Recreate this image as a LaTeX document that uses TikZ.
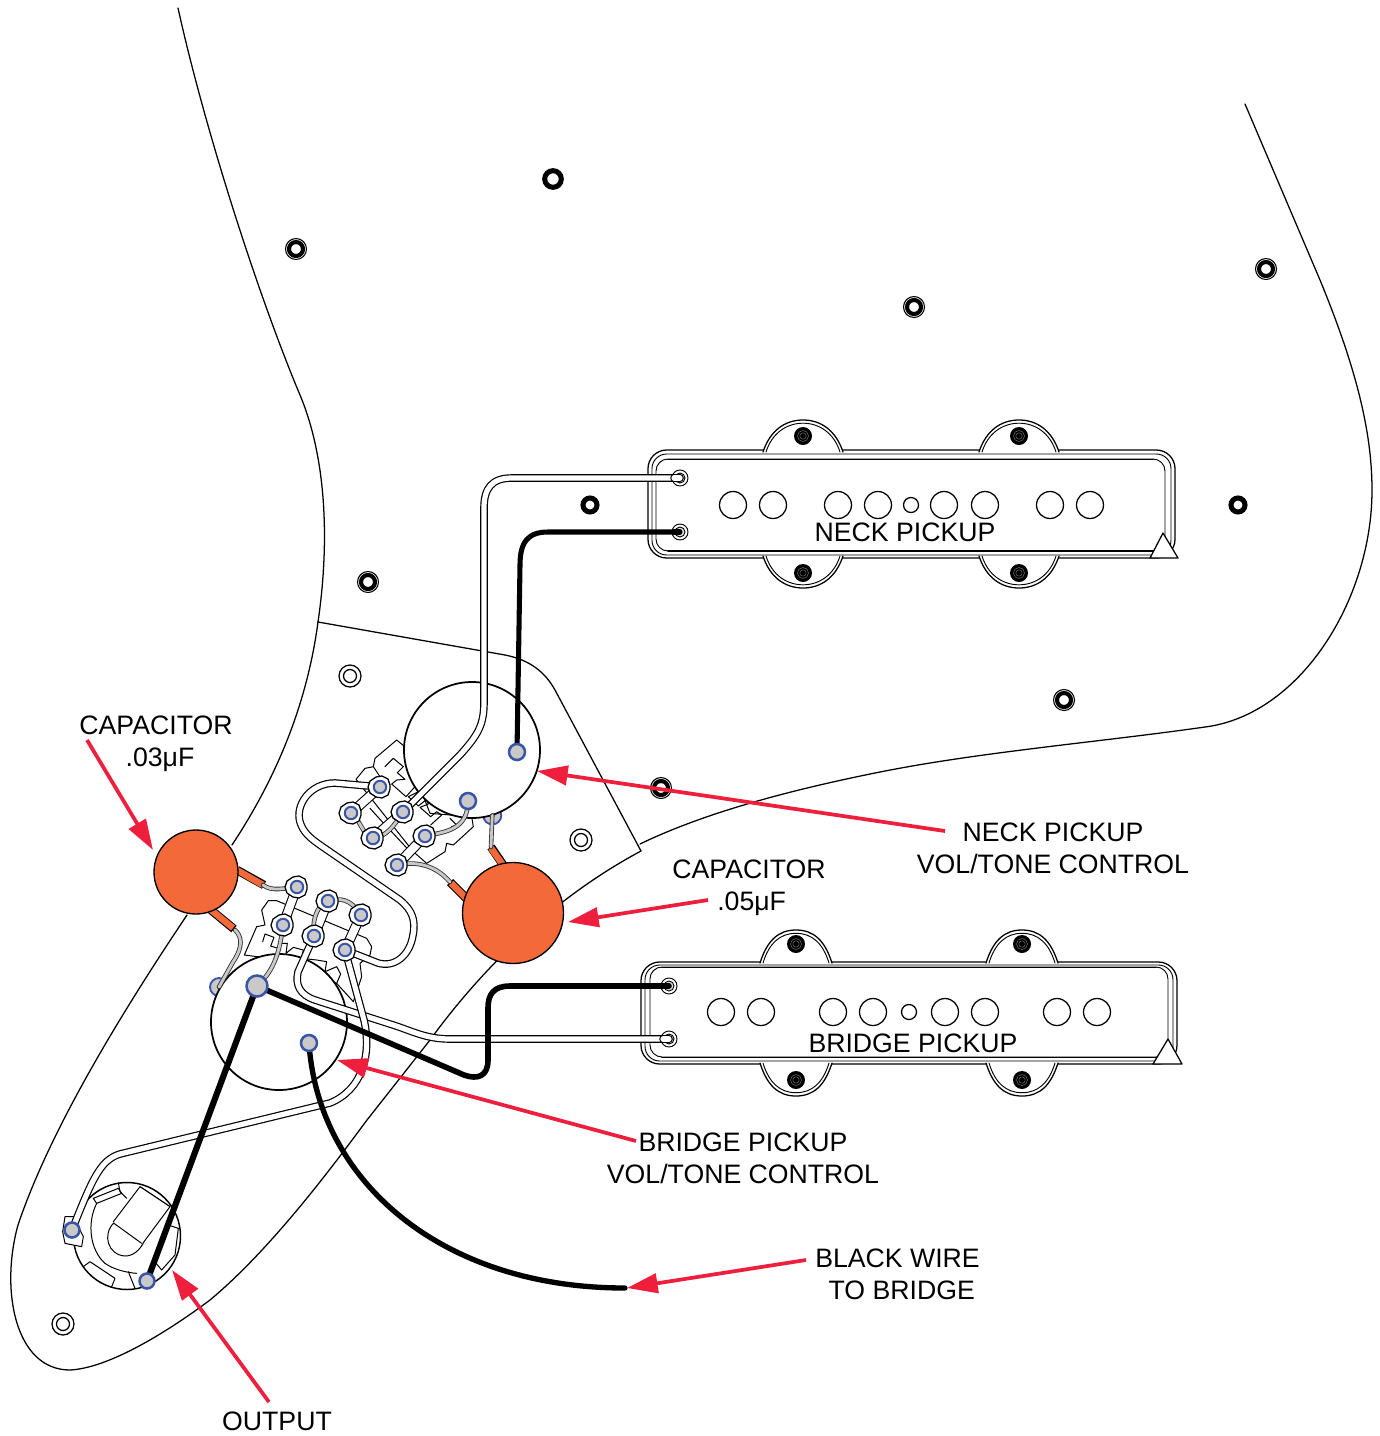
\documentclass[tikz,border=0pt]{standalone}
\usepackage{fontspec}
\setmainfont{Liberation Sans}
\usetikzlibrary{arrows.meta}
\definecolor{capor}{HTML}{F4693A}
\definecolor{redar}{HTML}{ED1F3D}
\definecolor{lugblue}{HTML}{3A55A5}
\definecolor{luggray}{HTML}{C9C9C9}
\tikzset{
  thinline/.style={line width=.95pt,draw=black},
  whitewire/.style={draw=black,line width=.9pt,double=white,double distance=3.9pt,line join=round},
  graywire/.style={draw=black!80,line width=.65pt,double=luggray,double distance=2.1pt},
  blackwire/.style={draw=black,line width=3.8pt,line join=round},
  strip/.style={draw=black,line width=.8pt,double=white,double distance=6pt},
  redarrow/.style={draw=redar,line width=2.8pt,-{Triangle[length=23pt,width=14.5pt,fill=redar]}},
  lbl/.style={font=\fontsize{20}{24}\selectfont,align=center,inner sep=0pt},
  capbody/.style={fill=capor,draw=black,line width=1pt},
  caplead/.style={draw=black,line width=6.4pt,line cap=butt},
  capleadin/.style={draw=capor,line width=4.9pt,line cap=butt},
}
\newcommand\lobe[4]{% cx, half width, ybase, ytip
  \fill[white] (#1-#2,#3) .. controls (#1-#2+7,#4+.33*#3-.33*#4) and (#1-18,#4) .. (#1,#4) .. controls (#1+18,#4) and (#1+#2-7,#4+.33*#3-.33*#4) .. (#1+#2,#3) -- cycle;
  \draw[thinline] (#1-#2,#3) .. controls (#1-#2+7,#4+.33*#3-.33*#4) and (#1-18,#4) .. (#1,#4) .. controls (#1+18,#4) and (#1+#2-7,#4+.33*#3-.33*#4) .. (#1+#2,#3);
  \draw[line width=.7pt] (#1-#2+3,#3) .. controls (#1-#2+9,#4+.4*#3-.4*#4) and (#1-16,#4+.1*#3-.1*#4) .. (#1,#4+.1*#3-.1*#4) .. controls (#1+16,#4+.1*#3-.1*#4) and (#1+#2-9,#4+.4*#3-.4*#4) .. (#1+#2-3,#3);
}
\newcommand\mountscrew[2]{%
  \fill[black] (#1,#2) circle[radius=9];
  \draw[gray,line width=.3pt] (#1,#2) circle[radius=5.5] (#1,#2) circle[radius=3.2];
}
\newcommand\boldscrew[3]{%
  \draw[line width=3.8pt,fill=white] (#1,#2) circle[radius=#3];
}
\newcommand\ringscrew[2]{%
  \draw[line width=.8pt,fill=white] (#1,#2) circle[radius=10.5];
  \draw[line width=3.1pt] (#1,#2) circle[radius=7];
}
\newcommand\platescrew[2]{%
  \draw[thinline] (#1,#2) circle[radius=11] (#1,#2) circle[radius=6.5];
}
\newcommand\lug[1]{% solder lug at named coordinate
  \fill[white,draw=black,line width=.95pt] (#1) ++(10,2) -- ++(-2,6) -- ++(-6,3) -- ++(-6,-1) -- ++(-6,-4) -- ++(-2,-6) -- ++(2,-6) -- ++(6,-4) -- ++(6,-1) -- ++(6,3) -- ++(2,6) -- cycle;
  \draw[draw=lugblue,fill=luggray,line width=1.5pt] (#1) circle[radius=6.2];
}
\newcommand\term[2]{%
  \draw[draw=lugblue,fill=luggray,line width=1.9pt] (#1) circle[radius=#2];
}
\begin{document}
\begin{tikzpicture}[x=.75pt,y=-.75pt,line cap=round]
\useasboundingbox (0,0) rectangle (1379,1436);
% ---- named points
\coordinate (nw) at (680,478);  \coordinate (nb) at (680,532);
\coordinate (bb) at (669,986);  \coordinate (bw) at (669,1039);
\coordinate (n1) at (380,787);  \coordinate (n2) at (351,813);
\coordinate (n3) at (403,812);  \coordinate (n4) at (373,838);
\coordinate (n5) at (425,836);  \coordinate (n6) at (397,865);
\coordinate (nA) at (517,752);  \coordinate (nB) at (468,801);
\coordinate (nC) at (492.3,815.4);
\coordinate (b1) at (297,887);  \coordinate (b2) at (283,925);
\coordinate (b3) at (328,901);  \coordinate (b4) at (314,936);
\coordinate (b5) at (361,915);  \coordinate (b6) at (345,950);
\coordinate (bA) at (257,986);  \coordinate (bB) at (309,1043);
\coordinate (bC) at (219,987);
\coordinate (jL) at (72,1230);  \coordinate (jB) at (147,1281);
\coordinate (bwEnd) at (625,1288);
% ---- pickguard outline
\draw[thinline] (178,8) .. controls (205,130) and (258,295) .. (300,395) .. controls (326,457) and (330,540) .. (318,622);
\draw[thinline] (318,622) .. controls (305,720) and (265,795) .. (232,845);
\draw[thinline] (187,915) .. controls (120,1015) and (50,1130) .. (18,1225) .. controls (0,1290) and (15,1370) .. (70,1370) .. controls (110,1368) and (170,1330) .. (210,1300) .. controls (270,1250) and (330,1170) .. (367,1120) -- (430,1040) .. controls (470,985) and (540,905) .. (641,851);
\draw[thinline] (318,622) -- (505,655) .. controls (530,660) and (545,672) .. (555,690) -- (641,851);
\draw[thinline] (1245,104) -- (1320,280) .. controls (1355,365) and (1372,430) .. (1372,490) .. controls (1372,600) and (1300,715) .. (1205,727) .. controls (1100,742) and (980,752) .. (880,772) .. controls (780,792) and (700,815) .. (640,844);
% ---- screws
\boldscrew{553}{179}{8.3}\ringscrew{296}{249}\ringscrew{914}{307}\ringscrew{1266}{269}
\boldscrew{590}{505}{7}\boldscrew{1238}{505}{7}\ringscrew{368}{582}\ringscrew{1064}{700}\ringscrew{661}{788}
\platescrew{350}{676}\platescrew{581}{840}\platescrew{63}{1324}
% ---- neck pickup
\draw[thinline,rounded corners=14pt] (648,450) rectangle (1175,558);
\draw[line width=.7pt,rounded corners=11pt] (652,454) rectangle (1171,555);
\draw[line width=.7pt,rounded corners=9pt] (656,459) rectangle (1165,551);
\draw[line width=1.4pt] (668,459.5) -- (1153,459.5) (668,551) -- (1153,551);
\lobe{803}{40}{452}{420}\lobe{1019}{40}{452}{420}\lobe{803}{40}{556}{588}\lobe{1019}{40}{556}{588}
\mountscrew{803}{436}\mountscrew{1019}{436}\mountscrew{803}{573}\mountscrew{1019}{573}
\foreach \x in {733,773,838,878,944,985,1050,1090}{\draw[thinline] (\x,505) circle[radius=13.5];}
\draw[thinline] (911,505) circle[radius=7.5];
\draw[thinline,fill=white,line join=round] (1150,558) -- (1163,533) -- (1178,558) -- cycle;
\node[lbl] (neckp) at (905,532) {NECK PICKUP};
% ---- bridge pickup
\draw[thinline,rounded corners=14pt] (641,962) rectangle (1177,1064);
\draw[line width=.7pt,rounded corners=11pt] (645,965) rectangle (1173,1061);
\draw[line width=.7pt,rounded corners=9pt] (650,967) rectangle (1168,1057);
\draw[line width=1.4pt] (662,967.5) -- (1156,967.5) (662,1057.5) -- (1156,1057.5);
\lobe{796}{36}{963}{930}\lobe{1022}{36}{963}{930}\lobe{796}{36}{1063}{1096}\lobe{1022}{36}{1063}{1096}
\mountscrew{796}{944}\mountscrew{1022}{944}\mountscrew{796}{1080}\mountscrew{1022}{1080}
\foreach \x in {721,761,833,873,945,985,1057,1097}{\draw[thinline] (\x,1012) circle[radius=13.5];}
\draw[thinline] (909,1012) circle[radius=7.5];
\draw[thinline,fill=white,line join=round] (1153,1064) -- (1168,1039) -- (1182,1064) -- cycle;
\node[lbl] (bridgep) at (913,1043) {BRIDGE PICKUP};
% ---- neck switch body (zoom coordinates)
\begin{scope}[shift={(280,670)},x=.25pt,y=-.25pt,line width=.75pt,line join=round]
  \draw[fill=white] (372,228) -- (350,210) -- (285,265) -- (280,290) -- (255,295) -- (228,328) -- (400,545) -- (440,580) -- (495,545) -- (500,520) -- (520,525) -- (580,470) -- (575,440) -- (450,430) -- cycle;
  \draw (315,290) -- (340,265) -- (370,290) -- (352,308) -- (375,328) -- (350,330) -- (335,342) -- (378,380) -- (405,350) -- (415,365) -- (385,380) -- (415,408) -- (440,388) -- (445,402) -- (420,412) -- (452,440) -- (470,425) -- (485,435) -- (452,465);
  \draw (270,415) -- (320,470) (330,480) -- (400,555);
  \draw (280,290) -- (300,320);
  \draw (510,445) -- (530,465) -- (515,470);
\end{scope}
% ---- bridge switch body
\begin{scope}[shift={(150,860)},x=.25pt,y=-.25pt,line width=.75pt,line join=round]
  \draw[fill=white] (283,285) -- (320,200) -- (345,195) -- (335,150) -- (355,122) -- (380,122) -- (650,235) -- (665,260) -- (660,285) -- (630,310) -- (635,350) -- (610,425) -- (560,370) -- (400,300) -- cycle;
  \draw (338,245) -- (345,222) -- (372,232) -- (362,258) -- (385,265) -- (392,250) -- (412,250) -- (408,280) -- (430,262) -- (460,270) -- (455,295) -- (500,300) -- (530,305) -- (525,335) -- (560,320) -- (572,342) -- (560,370);
\end{scope}
% ---- half terminals that the pots partly cover
\draw[draw=lugblue,fill=luggray,line width=1.4pt] (nC) circle[radius=9];
\draw[draw=lugblue,fill=luggray,line width=1.4pt] (bC) circle[radius=9];
% ---- pots
\draw[line width=1.3pt,fill=white] (472,750) circle[radius=68];
\draw[line width=1.3pt,fill=white] (279,1022) circle[radius=68];
% ---- strips
\draw[strip,line cap=butt] (n1) -- (n2);
\draw[strip,line cap=butt] (n3) -- (n4);
\draw[strip,line cap=butt] (n5) -- (n6);
\draw[strip,line cap=butt] (b1) -- (b2);
\draw[strip,line cap=butt] (b3) -- (b4);
\draw[strip,line cap=butt] (b5) -- (b6);
% ---- jack
\draw[line width=1.1pt,fill=white] (127,1236) circle[radius=53.5];
\begin{scope}[shift={(40,1160)},x=.25pt,y=-.25pt,line width=.75pt,line join=round]
  \draw (160,115) -- (235,85) -- (245,100) -- (170,130) -- cycle;
  \draw (235,68) -- (240,95) -- (260,115);
  \draw (300,80) -- (390,140);
  \draw (170,130) .. controls (140,190) and (150,270) .. (195,310) .. controls (220,328) and (260,338) .. (290,340);
  \draw[fill=white] (220,185) -- (300,80) -- (390,140) -- (312,245);
  \draw (222,188) .. controls (185,225) and (205,285) .. (255,288) .. controls (280,288) and (300,270) .. (312,245);
  \draw (222,190) -- (305,250);
  \draw (130,320) -- (150,305) -- (225,355) -- (215,380);
  \draw (265,335) -- (285,385);
  \draw (385,195) -- (415,205) -- (405,285) -- (365,330) -- (340,300);
  \draw[fill=white] (75,170) -- (68,215) -- (75,250) -- (125,260) -- (130,230) -- (100,170) -- cycle;
\end{scope}
% ---- capacitor leads + bodies
\draw[caplead] (237,870) -- (264,885); \draw[capleadin] (235,869) -- (263,885);
\draw[caplead] (205,905) -- (234,929); \draw[capleadin] (205,905) -- (233,928);
\draw[caplead] (510,875) -- (491,847); \draw[capleadin] (510,875) -- (491,848);
\draw[caplead] (473,905) -- (450,882); \draw[capleadin] (473,905) -- (451,883);
\draw[capbody] (196,872) circle[radius=42];
\draw[capbody] (513,913) circle[radius=50.5];
% ---- white wires
\draw[whitewire] (nw) -- (512,478) .. controls (492,478) and (484,488) .. (484,508) -- (484,702) .. controls (484,725) and (478,735) .. (460,755) -- (n3);
\draw[whitewire] (n1) -- (335,783) .. controls (310,783) and (295,805) .. (300,822) .. controls (303,832) and (310,838) .. (320,845) -- (400,900) .. controls (412,910) and (416,920) .. (413,935) .. controls (410,955) and (395,968) .. (378,963) -- (b6);
\draw[whitewire] (bw) -- (450,1039) .. controls (425,1039) and (410,1030) .. (390,1024) -- (315,1000) .. controls (300,995) and (295,985) .. (298,972) -- (b4);
\draw[whitewire] (b6) -- (364,1020) .. controls (372,1055) and (362,1090) .. (330,1103) -- (120,1154) .. controls (100,1160) and (92,1180) .. (jL);
% ---- gray wires
\draw[graywire] (n2) .. controls (362,822) and (362,835) .. (n4);
\draw[graywire] (n4) .. controls (385,838) and (395,825) .. (n3);
\draw[graywire] (n5) .. controls (445,832) and (468,830) .. (nB);
\draw[graywire] (n6) .. controls (420,860) and (438,868) .. (450,882);
\draw[graywire] (nC) -- (491,847);
\draw[graywire] (263,885) .. controls (272,892) and (285,888) .. (b1);
\draw[graywire] (235,930) .. controls (246,940) and (238,955) .. (233,962) -- (bC);
\draw[graywire] (b2) .. controls (280,950) and (275,970) .. (bA);
\draw[graywire] (b4) .. controls (312,925) and (315,905) .. (b3);
\draw[graywire] (b3) .. controls (340,898) and (350,898) .. (b5);
% ---- black wires
\draw[blackwire] (nb) -- (548,532) .. controls (528,532) and (520,542) .. (520,565) -- (nA);
\draw[blackwire,line width=4.2pt] (bb) -- (510,986) .. controls (494,986) and (488,994) .. (488,1008) -- (488,1060) .. controls (488,1076) and (478,1080) .. (464,1075) -- (bA);
\draw[draw=black,line width=4.6pt] (bA) -- (jB);
\draw[blackwire,line width=4pt] (bB) .. controls (318,1180) and (440,1288) .. (bwEnd);
% ---- lugs and terminals
\foreach \p in {n1,n2,n3,n4,n5,n6,b1,b2,b3,b4,b5,b6}{\lug{\p}}
\term{nA}{8}\term{nB}{8}\term{bB}{8}\term{bA}{10.5}\term{jL}{7.5}\term{jB}{7.5}
% ---- pickup lugs
\foreach \p in {nw,nb,bb,bw}{\draw[line width=.7pt] (\p) circle[radius=8];\draw[line width=.7pt,fill=luggray!50] (\p) circle[radius=5];}
\draw[whitewire] (nw) ++(-6,0) -- (nw);
\draw[blackwire] (nb) ++(-6,0) -- (nb);
\draw[blackwire,line width=4.2pt] (bb) ++(-6,0) -- (bb);
\draw[whitewire] (bw) ++(-6,0) -- (bw);
% ---- labels
\node[lbl] (lcap3) at (156,744) {CAPACITOR\\\hspace*{6pt}.03μF};
\node[lbl] (lcap5) at (749,888) {CAPACITOR\\\hspace*{4pt}.05μF};
\node[lbl] (lneck) at (1053,848) {NECK PICKUP\\VOL/TONE CONTROL};
\node[lbl] (lbridge) at (743,1158) {BRIDGE PICKUP\\VOL/TONE CONTROL};
\node[lbl,align=left,anchor=west] (lblack) at (815,1274) {BLACK WIRE\\\hspace*{10pt}TO BRIDGE};
\node[lbl] (lout) at (277,1421) {OUTPUT};
% ---- red arrows
\coordinate (a1s) at (87,740);   \coordinate (a1e) at (153,850);
\coordinate (a2s) at (708,900);  \coordinate (a2e) at (568,922);
\coordinate (a3s) at (945,831);  \coordinate (a3e) at (537,771);
\coordinate (a4s) at (636,1141); \coordinate (a4e) at (337,1060);
\coordinate (a5s) at (806,1260); \coordinate (a5e) at (627,1288);
\coordinate (a6s) at (269,1402); \coordinate (a6e) at (172,1270);
\foreach \i in {1,...,6}{\draw[redarrow,line cap=butt] (a\i s) -- (a\i e);}
\end{tikzpicture}
\end{document}
